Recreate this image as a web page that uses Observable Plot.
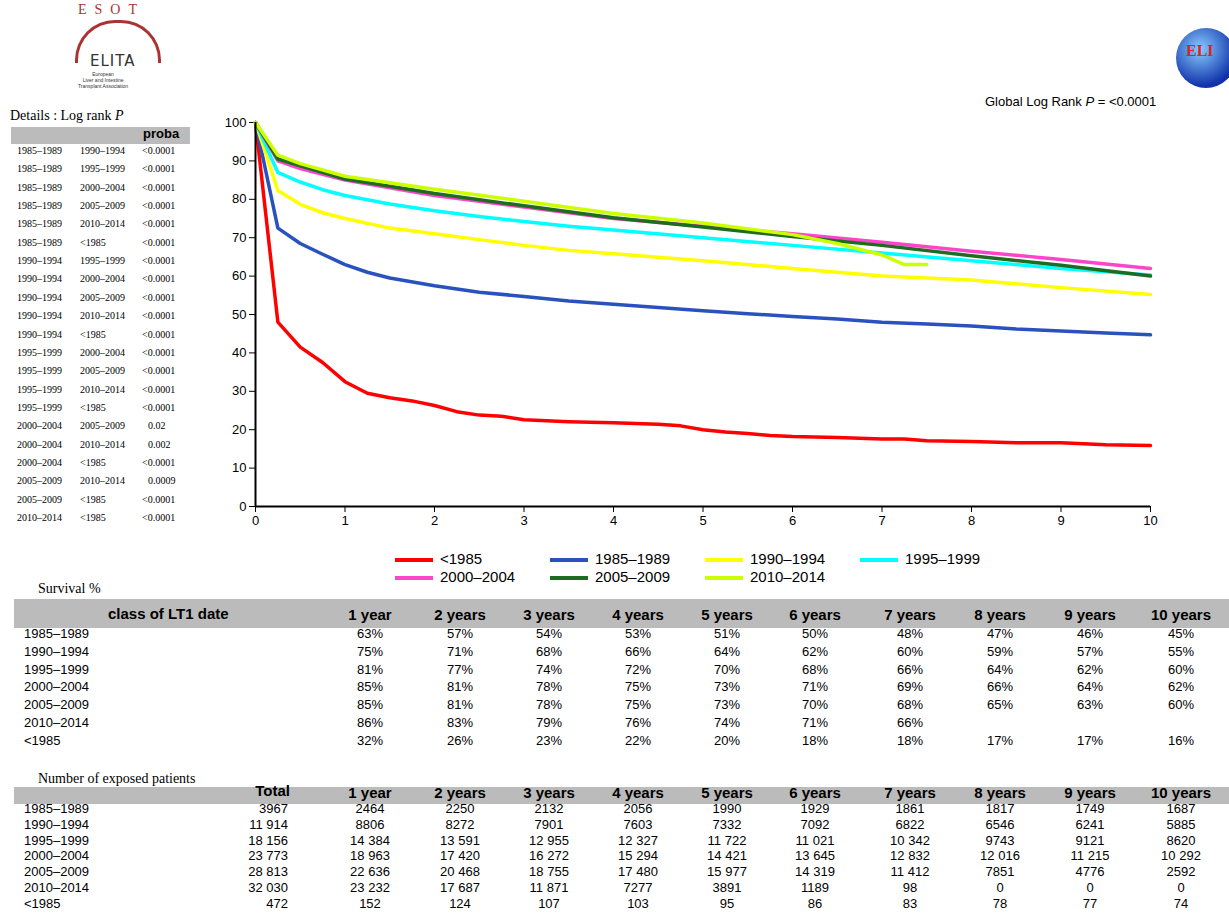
<!DOCTYPE html>
<html><head><meta charset="utf-8">
<script src="https://cdn.jsdelivr.net/npm/d3@7"></script>
<script src="https://cdn.jsdelivr.net/npm/@observablehq/plot@0.6"></script>
<style>
body{margin:0;background:#fff;font-family:"Liberation Sans",Arial,sans-serif;}
#root{position:relative;width:1229px;height:919px;overflow:hidden}
.a{position:absolute;white-space:nowrap}
.serif{font-family:"Liberation Serif","Times New Roman",serif}
</style></head><body><div id="root"></div>
<script>
const years = [0,0.25,0.5,0.75,1,1.25,1.5,1.75,2,2.25,2.5,2.75,3,3.5,4,4.5,4.75,5,5.25,5.5,5.75,6,6.5,7,7.25,7.5,8,8.5,9,9.5,10];
const sLt1985 = [100,48,41.5,37.5,32.5,29.5,28.3,27.5,26.3,24.7,23.8,23.5,22.6,22.1,21.8,21.4,21,20,19.4,19,18.5,18.2,18,17.6,17.6,17.1,16.9,16.6,16.6,16.1,15.9];
const yrsB = [0,0.25,0.5,0.75,1,1.25,1.5,2,2.5,3,3.5,4,4.5,5,5.5,6,6.5,7,7.5,8,8.5,9,9.5,10];
const s1985 = [100,72.5,68.5,65.7,63,61,59.5,57.5,55.8,54.7,53.5,52.7,51.8,51,50.2,49.5,48.8,48,47.5,47,46.2,45.7,45.2,44.7];
const yrsC = [0,0.25,0.5,0.75,1,1.5,2,2.5,3,3.5,4,5,6,7,8,9,10];
const s1990 = [100,82.3,78.7,76.5,75,72.5,71,69.5,68,66.7,65.8,64,62,60,59,57,55.2];
const s1995 = [100,87,84.5,82.5,81,78.8,77,75.5,74.2,73,72,70,68,66,64,62,60.3];
const yrsD = [0,0.25,0.5,1,2,3,4,5,6,7,8,9,10];
const s2000 = [100,90,88,85,81,78,75,73,71,68.8,66.5,64.3,62];
const s2005 = [100,90.5,88.7,85.3,81.5,78.3,75.2,72.8,70.3,68,65.3,62.8,60];
const yrsE = [0,0.25,0.5,1,2,3,4,5,6,6.5,7,7.25,7.5];
const s2010 = [100,91.5,89.3,86,82.6,79.5,76.3,73.8,70.8,68.5,65.5,63,63];
const groups = ["<1985","1985–1989","1990–1994","1995–1999","2000–2004","2005–2009","2010–2014"];
const colors = ["#ff0000","#2a52be","#ffff00","#00ffff","#ff44cc","#1e6b22","#ccff00"];
const xTicks=[0,1,2,3,4,5,6,7,8,9,10], yTicks=[0,10,20,30,40,50,60,70,80,90,100];

const logRank = [["1985–1989","1990–1994","<0.0001"],["1985–1989","1995–1999","<0.0001"],["1985–1989","2000–2004","<0.0001"],["1985–1989","2005–2009","<0.0001"],["1985–1989","2010–2014","<0.0001"],["1985–1989","<1985","<0.0001"],["1990–1994","1995–1999","<0.0001"],["1990–1994","2000–2004","<0.0001"],["1990–1994","2005–2009","<0.0001"],["1990–1994","2010–2014","<0.0001"],["1990–1994","<1985","<0.0001"],["1995–1999","2000–2004","<0.0001"],["1995–1999","2005–2009","<0.0001"],["1995–1999","2010–2014","<0.0001"],["1995–1999","<1985","<0.0001"],["2000–2004","2005–2009","0.02"],["2000–2004","2010–2014","0.002"],["2000–2004","<1985","<0.0001"],["2005–2009","2010–2014","0.0009"],["2005–2009","<1985","<0.0001"],["2010–2014","<1985","<0.0001"]];
const yearCols = ["1 year","2 years","3 years","4 years","5 years","6 years","7 years","8 years","9 years","10 years"];
const survRows = [["1985–1989","63%","57%","54%","53%","51%","50%","48%","47%","46%","45%"],["1990–1994","75%","71%","68%","66%","64%","62%","60%","59%","57%","55%"],["1995–1999","81%","77%","74%","72%","70%","68%","66%","64%","62%","60%"],["2000–2004","85%","81%","78%","75%","73%","71%","69%","66%","64%","62%"],["2005–2009","85%","81%","78%","75%","73%","70%","68%","65%","63%","60%"],["2010–2014","86%","83%","79%","76%","74%","71%","66%","","",""],["<1985","32%","26%","23%","22%","20%","18%","18%","17%","17%","16%"]];
const expRows = [["1985–1989","3967","2464","2250","2132","2056","1990","1929","1861","1817","1749","1687"],["1990–1994","11 914","8806","8272","7901","7603","7332","7092","6822","6546","6241","5885"],["1995–1999","18 156","14 384","13 591","12 955","12 327","11 722","11 021","10 342","9743","9121","8620"],["2000–2004","23 773","18 963","17 420","16 272","15 294","14 421","13 645","12 832","12 016","11 215","10 292"],["2005–2009","28 813","22 636","20 468","18 755","17 480","15 977","14 319","11 412","7851","4776","2592"],["2010–2014","32 030","23 232","17 687","11 871","7277","3891","1189","98","0","0","0"],["<1985","472","152","124","107","103","95","86","83","78","77","74"]];

const data = [];
const add=(g,xs,ys)=>xs.forEach((x,i)=>data.push({g,x,y:ys[i]}));
add("<1985",years,sLt1985);add("1985–1989",yrsB,s1985);add("1990–1994",yrsC,s1990);add("1995–1999",yrsC,s1995);add("2000–2004",yrsD,s2000);add("2005–2009",yrsD,s2005);add("2010–2014",yrsE,s2010);

const root=document.getElementById("root");
function el(html,x,y,style=""){const d=document.createElement("div");d.className="a";d.style.cssText=`left:${x}px;top:${y}px;${style}`;d.innerHTML=html;root.appendChild(d);return d;}

// logos (simplified)
el("ESOT",78,2,"font:14px 'Liberation Serif';color:#a33;letter-spacing:8px");
el("",75,20,"width:80px;height:40px;border:3px solid #a33;border-bottom:none;border-radius:40px 40px 0 0");
el("ELITA",90,52,"font:15px 'DejaVu Sans';color:#333;letter-spacing:1px");
el("European<br>Liver and Intestine<br>Transplant Association",78,71,"font:5px 'Liberation Sans';text-align:center;line-height:6px;color:#333");
el("",1176,28,"width:60px;height:60px;border-radius:50%;background:radial-gradient(circle at 40% 35%,#8cf,#13a 70%)");
el("ELI",1186,42,"font:bold 16px 'Liberation Serif';color:#d22");
el("Global Log Rank <i>P</i> = &lt;0.0001",985,94,"font:13px 'Liberation Sans'");

// log rank table
el("Details : Log rank <i>P</i>",10,108,"font:14px 'Liberation Serif'");
el("",11,127,"width:179px;height:17px;background:#bbb");
el("proba",143,126,"font:bold 13px 'Liberation Sans'");
logRank.forEach((r,i)=>{const y=145+i*18.35;
 el(r[0],17,y,"font:10px 'Liberation Serif'");el(r[1],80,y,"font:10px 'Liberation Serif'");el(r[2],r[2].startsWith("<")?142:148,y,"font:10px 'Liberation Serif'");});

// chart
const chart = Plot.plot({
 width:980,height:424,marginLeft:55,marginRight:30,marginTop:10,marginBottom:30,
 style:{fontFamily:"Liberation Sans, Arial",fontSize:"13px",color:"#000"},
 x:{domain:[0,10],ticks:xTicks,tickSize:6,label:null,tickFormat:d=>d},
 y:{domain:[0,100],ticks:yTicks,tickSize:6,label:null},
 color:{domain:groups,range:colors},
 marks:[
  Plot.line(data,{x:"x",y:"y",z:"g",stroke:"g",strokeWidth:3.5,curve:"linear"}),
  Plot.ruleX([0],{strokeWidth:2}),
  Plot.ruleY([0],{strokeWidth:2})
 ]});
const cw=el("",200,112);cw.appendChild(chart);
chart.querySelectorAll("text").forEach(t=>t.style.fontSize="13px");

// legend
const legPos=[[395,550],[550,550],[705,550],[860,550],[395,568],[550,568],[705,568]];
const legOrder=["<1985","1985–1989","1990–1994","1995–1999","2000–2004","2005–2009","2010–2014"];
legOrder.forEach((g,i)=>{const [x,y]=legPos[i];const c=colors[groups.indexOf(g)];
 el("",x,y+8,`width:38px;height:4px;background:${c}`);el(g,x+45,y,"font:15px 'Liberation Sans'");});

// survival table
el("Survival %",38,581,"font:14px 'Liberation Serif'");
el("",14,599,"width:1215px;height:29px;background:#bbb");
el("class of LT1 date",108,605,"font:bold 15px 'Liberation Sans'");
const colX=[370,460,549,638,727,815,910,1000,1090,1181];
yearCols.forEach((c,i)=>el(c,colX[i]-50,606,"font:bold 15px 'Liberation Sans';width:100px;text-align:center"));
survRows.forEach((r,j)=>{const y=626+j*17.8;el(r[0],24,y,"font:13px 'Liberation Sans'");
 r.slice(1).forEach((v,i)=>el(v,colX[i]-50,y,"font:13px 'Liberation Sans';width:100px;text-align:center"));});

// exposed table
el("Number of exposed patients",38,771,"font:14px 'Liberation Serif'");
el("",14,787,"width:1215px;height:17px;background:#bbb");
el("Total",200,782,"font:bold 15px 'Liberation Sans';width:90px;text-align:right");
yearCols.forEach((c,i)=>el(c,colX[i]-50,784,"font:bold 15px 'Liberation Sans';width:100px;text-align:center"));
expRows.forEach((r,j)=>{const y=801+j*15.8;el(r[0],24,y,"font:13px 'Liberation Sans'");
 el(r[1],200,y,"font:13px 'Liberation Sans';width:88px;text-align:right");
 r.slice(2).forEach((v,i)=>el(v,colX[i]-50,y,"font:13px 'Liberation Sans';width:100px;text-align:center"));});
</script></body></html>
